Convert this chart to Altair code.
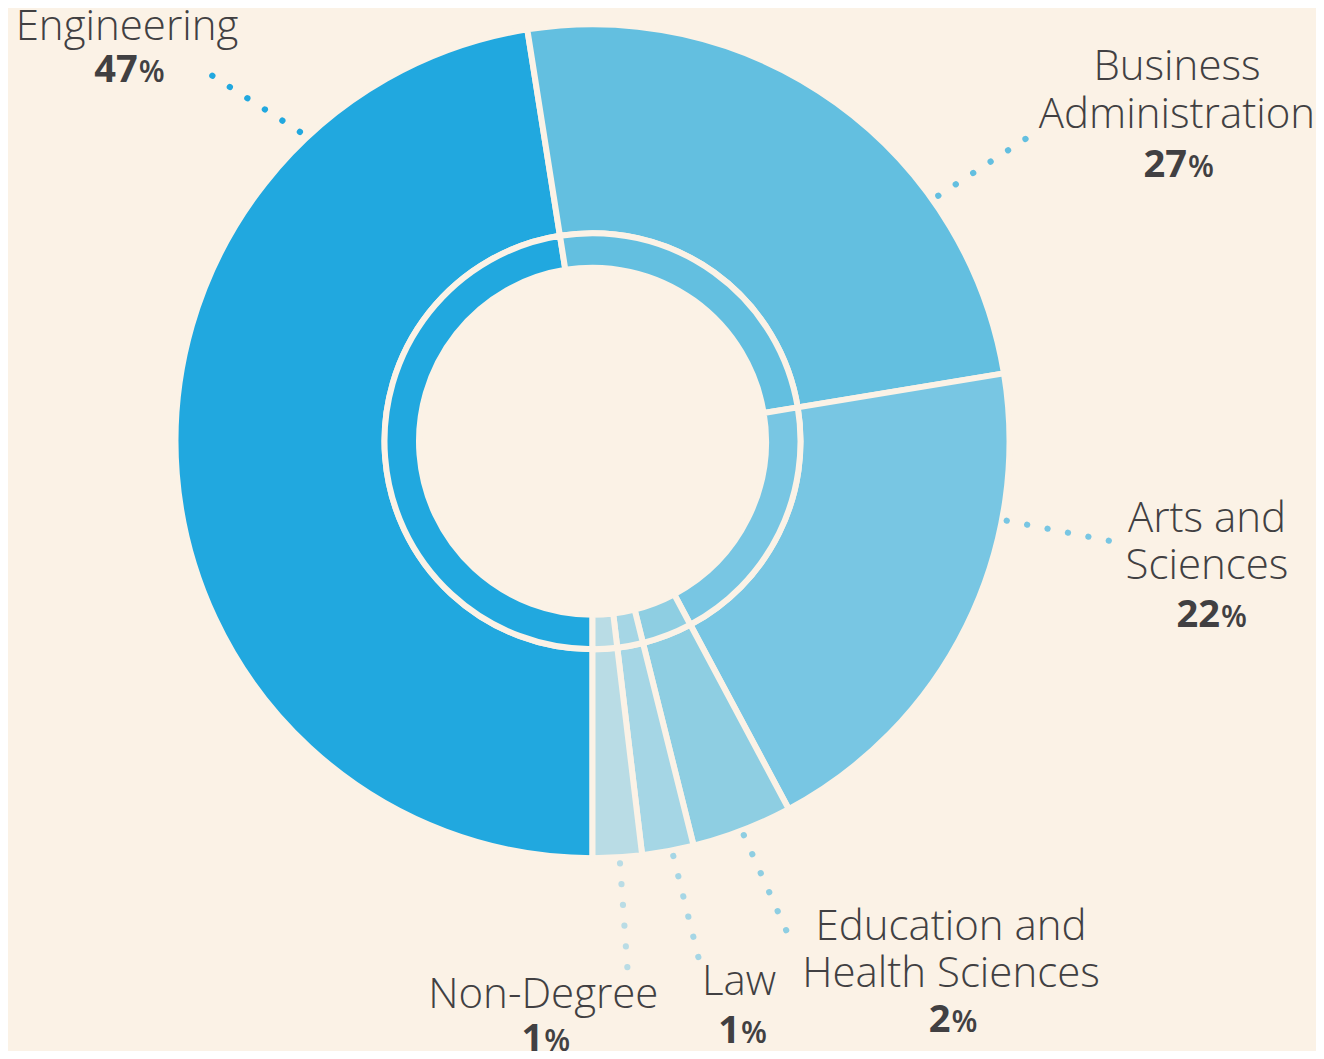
import math
import altair as alt
import pandas as pd

# ---------------- data ----------------
categories = ["Engineering", "Business Administration", "Arts and Sciences",
              "Education and Health Sciences", "Law", "Non-Degree"]
arc_values = [47.5, 24.9, 19.8, 3.9, 2.0, 1.9]          # share of the ring as drawn
label_pcts = ["47", "27", "22", "2", "1", "1"]          # printed percentages
label_lines = [["Engineering"], ["Business", "Administration"], ["Arts and", "Sciences"],
               ["Education and", "Health Sciences"], ["Law"], ["Non-Degree"]]
colors = ["#21A8DF", "#63BFE0", "#78C6E3", "#8ECEE2", "#A5D6E5", "#B9DCE5"]

# ---------------- layout (chart pixel space) ----------------
W, H = 1308, 1043
OFF = 8
CX, CY = 592.5 - OFF, 441.2 - OFF
BG = "#FBF2E6"
TEXT = "#414042"
LINE_H = 47.7

name_x = [127, 1177, 1207, 951, 739, 543.3]
name_y = [40, 80, 531.7, 939.5, 995, 1008.3]
pct_anchor = [137.8, 1187, 1220, 950.5, 740, 543.3]
pct_y = [82.3, 176.7, 626.7, 1031.7, 1042.7, 1050.5]
lead_start = [(212.3, 75.7), (938.3, 195.7), (1006.7, 520.7), (743.8, 835.1), (673.3, 856.0), (620.0, 863.3)]
lead_end = [(301.0, 132.6), (1026.3, 138.4), (1109.7, 540.9), (786.8, 931.6), (698.5, 957.7), (627.4, 968.0)]

# ---------------- tables ----------------
arc_df = pd.DataFrame({"category": categories, "value": arc_values,
                       "color": colors, "idx": list(range(len(categories)))})

name_rows = []
for i, lines in enumerate(label_lines):
    for j, ln in enumerate(lines):
        name_rows.append({"text": ln, "x": name_x[i] - OFF, "y": name_y[i] - OFF + j * LINE_H})
name_df = pd.DataFrame(name_rows)

pct_df = pd.DataFrame({"num": label_pcts, "pct": ["%"] * len(label_pcts),
                       "x": [a - OFF for a in pct_anchor], "y": [v - OFF for v in pct_y]})

lead_df = pd.DataFrame({
    "x": [s[0] - OFF for s in lead_start], "y": [s[1] - OFF for s in lead_start],
    "x2": [e[0] - OFF for e in lead_end], "y2": [e[1] - OFF for e in lead_end],
    "color": colors,
})

# ---------------- encodings ----------------
theta = alt.Theta("value:Q", stack=True, scale=alt.Scale(range=[math.pi, 3 * math.pi]))
X = alt.X("x:Q", scale=alt.Scale(domain=[0, W], nice=False, zero=False), axis=None)
Y = alt.Y("y:Q", scale=alt.Scale(domain=[0, H], nice=False, zero=False, reverse=True), axis=None)

outer = alt.Chart(arc_df).mark_arc(radius=417, radius2=208, stroke=BG, strokeWidth=6).encode(
    theta=theta, order=alt.Order("idx:Q"), color=alt.Color("color:N", scale=None),
    x=alt.value(CX), y=alt.value(CY))

inner = alt.Chart(arc_df).mark_arc(radius=208, radius2=173.5, stroke=BG, strokeWidth=6).encode(
    theta=theta, order=alt.Order("idx:Q"), color=alt.Color("color:N", scale=None),
    x=alt.value(CX), y=alt.value(CY))

leaders = alt.Chart(lead_df).mark_rule(strokeWidth=6.2, strokeCap="round", strokeDash=[0.1, 20.7]).encode(
    x=X, y=Y, x2="x2:Q", y2="y2:Q", color=alt.Color("color:N", scale=None))

names = alt.Chart(name_df).mark_text(font="Open Sans", fontSize=42, fontWeight=300, color=TEXT,
                                     align="center", baseline="alphabetic").encode(
    x=X, y=Y, text="text:N")

nums = alt.Chart(pct_df).mark_text(font="Open Sans", fontSize=38, fontWeight=700, color=TEXT,
                                   align="right", baseline="alphabetic").encode(
    x=X, y=Y, text="num:N")

pcts = alt.Chart(pct_df).mark_text(font="Open Sans", fontSize=30, fontWeight=600, color=TEXT,
                                   align="left", baseline="alphabetic", dx=1).encode(
    x=X, y=Y, text="pct:N")

chart = alt.layer(outer, inner, leaders, names, nums, pcts).properties(
    width=W, height=H, autosize=alt.AutoSizeParams(type="none"), padding=0,
    background=BG,
).configure_view(stroke=None)

chart.save("out.html", embed_options={"renderer": "svg", "actions": False})
